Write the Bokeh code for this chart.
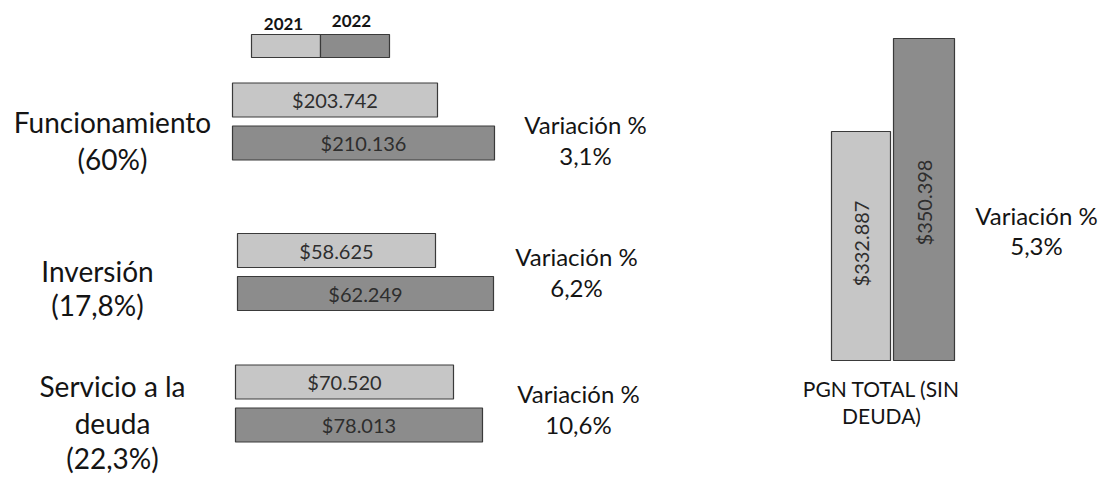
from bokeh.plotting import figure
from bokeh.models import Range1d, ColumnDataSource
from bokeh.core.properties import value
from bokeh.embed import file_html
from bokeh.resources import INLINE

# ---------------- data ----------------
years = ["2021", "2022"]
categories = ["Funcionamiento", "Inversión", "Servicio a la deuda"]
category_labels = [["Funcionamiento", "(60%)"], ["Inversión", "(17,8%)"], ["Servicio a la", "deuda", "(22,3%)"]]
values_2021 = [203742, 58625, 70520]
values_2022 = [210136, 62249, 78013]
variation = ["3,1%", "6,2%", "10,6%"]
total_label = ["PGN TOTAL (SIN", "DEUDA)"]
total_2021 = 332887
total_2022 = 350398
total_variation = "5,3%"

def fmt(v):
    return "$" + f"{v:,}".replace(",", ".")

# ---------------- layout / style ----------------
W, H = 1102, 478
FONT = "Lato"
C21, C22, EDGE, TXT = "#c6c6c6", "#8c8c8c", "#3a3a3a", "#141414"

# per-group axis: baseline value at bar start, bar start px, px per unit
group_axis = [(180746, 232, 0.0089146), (46253, 237, 0.016004), (14189, 235, 0.00387)]
group_y = [121, 271.5, 403]
bar_h = 34
bar_off = 21.5
label_x = [112, 97, 112]
label_y = [[121, 158], [270, 304], [385, 422, 457]]
var_xy = [(585, 124), (576, 256), (578, 393)]

p = figure(width=W, height=H, x_range=Range1d(0, W), y_range=Range1d(H, 0),
           output_backend="svg", toolbar_location=None, min_border=0)
p.axis.visible = False
p.grid.visible = False
p.outline_line_color = None
p.background_fill_color = "white"
p.border_fill_color = "white"

for i in range(3):
    base, px0, scale = group_axis[i]
    start = base - px0 / scale
    name = f"g{i}"
    p.extra_x_ranges[name] = Range1d(start, start + W / scale)
    src = ColumnDataSource(dict(
        y=[group_y[i] - bar_off, group_y[i] + bar_off],
        right=[values_2021[i], values_2022[i]],
        left=[base, base],
        color=[C21, C22],
        lab=[fmt(values_2021[i]), fmt(values_2022[i])],
        mid=[(base + values_2021[i]) / 2, (base + values_2022[i]) / 2],
    ))
    p.hbar(y="y", left="left", right="right", height=bar_h, fill_color="color",
           line_color=EDGE, line_width=1.2, source=src, x_range_name=name)
    p.text(x="mid", y="y", text="lab", source=src, x_range_name=name,
           text_align="center", text_baseline="middle", text_font=value(FONT),
           text_font_size="20px", text_color="#2e2e2e")
    for t, yy in zip(category_labels[i], label_y[i]):
        p.text(x=[label_x[i]], y=[yy], text=[t], text_align="center", text_baseline="middle",
               text_font=value(FONT), text_font_size="28px", text_color=TXT)
    vx, vy = var_xy[i]
    p.text(x=[vx, vx], y=[vy, vy + 31], text=["Variación %", variation[i]], text_align="center",
           text_baseline="middle", text_font=value(FONT), text_font_size="24px", text_color=TXT)

# legend
p.quad(left=[251, 320], right=[320, 389], top=[34, 34], bottom=[57, 57],
       fill_color=[C21, C22], line_color=EDGE, line_width=1.2)
p.text(x=[283, 351], y=[23, 20], text=years, text_align="center", text_baseline="middle",
       text_font=value(FONT), text_font_size="17px", text_color=TXT, text_font_style="bold")

# right panel: total
tbase, tpx0, tscale = 289769, 360, 0.005311
ystart = tbase - (H - tpx0) / tscale
p.extra_y_ranges["tot"] = Range1d(ystart, ystart + H / tscale)
lab_px = [112, 164]  # label centre distance below bar top, px
tsrc = ColumnDataSource(dict(x=[860.5, 923.5], top=[total_2021, total_2022], bottom=[tbase, tbase],
                             color=[C21, C22], w=[59, 61],
                             lab=[fmt(total_2021), fmt(total_2022)],
                             mid=[total_2021 - lab_px[0] / tscale, total_2022 - lab_px[1] / tscale]))
p.vbar(x="x", top="top", bottom="bottom", width="w", fill_color="color", line_color=EDGE,
       line_width=1.2, source=tsrc, y_range_name="tot")
p.text(x="x", y="mid", text="lab", source=tsrc, y_range_name="tot", angle=1.5708,
       text_align="center", text_baseline="middle", text_font=value(FONT),
       text_font_size="20px", text_color="#2e2e2e")
p.text(x=[881, 881], y=[388, 415], text=total_label, text_align="center", text_baseline="middle",
       text_font=value(FONT), text_font_size="21px", text_color=TXT)
p.text(x=[1036, 1036], y=[215, 245], text=["Variación %", total_variation], text_align="center",
       text_baseline="middle", text_font=value(FONT), text_font_size="24px", text_color=TXT)

open("out.html", "w").write(file_html(p, INLINE))
